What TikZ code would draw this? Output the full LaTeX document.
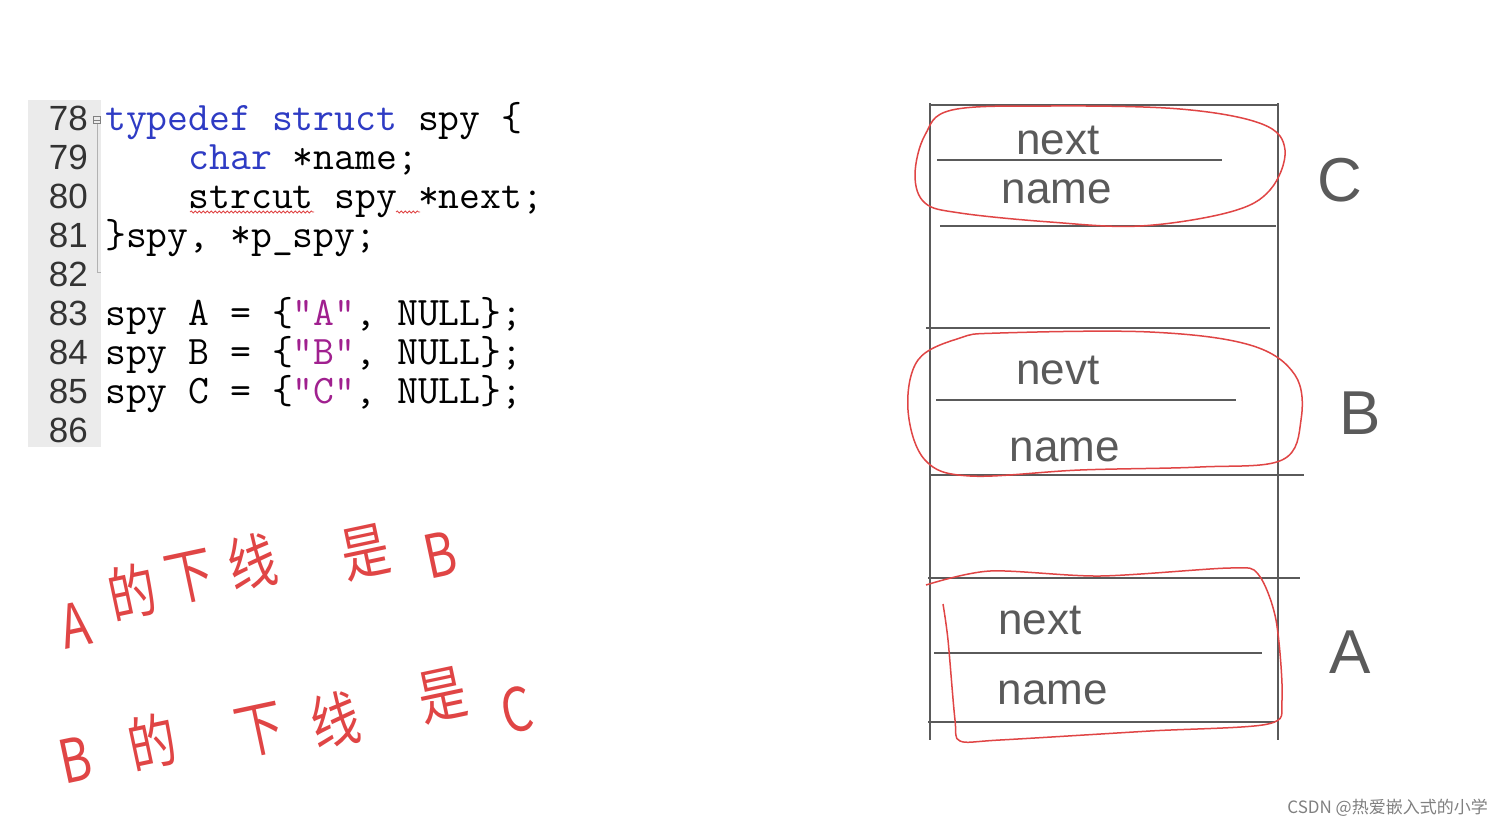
\documentclass[tikz,border=0pt]{standalone}
\usepackage{fontspec}
\setmainfont{Liberation Sans}
\newfontfamily\cjkfont{Noto Sans CJK SC}
\usetikzlibrary{decorations.pathmorphing}
\definecolor{kw}{HTML}{2E3BC4}
\definecolor{strc}{HTML}{A0208F}
\definecolor{lnbg}{HTML}{EBEBEB}
\definecolor{pen}{HTML}{E04545}
\definecolor{ink}{HTML}{5A5A5A}
\definecolor{wm}{HTML}{808080}
\tikzset{
  code/.style={font=\ttfamily\fontsize{40.5}{39}\selectfont, inner sep=0pt, anchor=base west},
  lnum/.style={font=\fontsize{35}{39}\selectfont, text=black!80, inner sep=0pt, anchor=base east},
  hand/.style={font=\fontsize{44}{50}\selectfont, text=ink, inner sep=0pt},
  bigletter/.style={font=\fontsize{62}{70}\selectfont, text=ink, inner sep=0pt},
  cjkhand/.style={font=\cjkfont\fontsize{60}{66}\selectfont, text=pen, inner sep=0pt, rotate=12, xscale=0.8},
  memline/.style={draw=ink, line width=1.4pt},
  redloop/.style={draw=pen, line width=1.5pt},
  squiggle/.style={draw=pen, line width=0.8pt, decorate, decoration={snake, amplitude=1pt, segment length=4pt}}
}
\begin{document}
\begin{tikzpicture}[x=1pt,y=-1pt]
\useasboundingbox[fill=white] (0,0) rectangle (1502,828);
% line number gutter
\fill[lnbg] (28,100) rectangle (101,447);
\foreach \n/\y in {78/130,79/169,80/208,81/247,82/286,83/325,84/364,85/403,86/442}{
  \node[lnum] (ln\n) at (88,\y) {\n};
}
% fold marker
\node[draw=black!50, line width=0.6pt, minimum size=7pt, inner sep=0pt] (fold) at (97,120) {};
\draw[black!50, line width=0.6pt] (94,120) -- (100,120);
\draw[black!30, line width=0.8pt] (fold.south) -- (97,272) -- (101,272);
% code
\node[code] (c78) at (105,130) {\textcolor{kw}{typedef struct} spy \{};
\node[code] (c79) at (105,169) {\ \ \ \ \textcolor{kw}{char} *name;};
\node[code] (c80) at (105,208) {\ \ \ \ strcut spy *next;};
\node[code] (c81) at (105,247) {\}spy, *p\_spy;};
\node[code] (c83) at (105,325) {spy A = \{\textcolor{strc}{"A"}, NULL\};};
\node[code] (c84) at (105,364) {spy B = \{\textcolor{strc}{"B"}, NULL\};};
\node[code] (c85) at (105,403) {spy C = \{\textcolor{strc}{"C"}, NULL\};};
\draw[squiggle] (190,212) -- (314,212);
\draw[squiggle] (396,212) -- (420,212);
% memory column
\draw[memline] (930,103) -- (930,740);
\draw[memline] (1278,103) -- (1278,740);
\draw[memline] (930,105) -- (1278,105);
\draw[memline] (937,160) -- (1222,160);
\draw[memline] (940,226) -- (1276,226);
\draw[memline] (926,328) -- (1270,328);
\draw[memline] (936,400) -- (1236,400);
\draw[memline] (930,475) -- (1304,475);
\draw[memline] (928,578) -- (1300,578);
\draw[memline] (934,653) -- (1262,653);
\draw[memline] (928,722) -- (1275,722);
% field labels
\node[hand] (cnext) at (1058,140) {next};
\node[hand] (cname) at (1057,192) {name};
\node[hand] (bnext) at (1058,370) {nevt};
\node[hand] (bname) at (1065,450) {name};
\node[hand] (anext) at (1040,620) {next};
\node[hand] (aname) at (1053,693) {name};
% struct letters
\node[bigletter] (lc) at (1340,180) {C};
\node[bigletter] (lb) at (1360,413) {B};
\node[bigletter] (la) at (1350,652) {A};
% red loops
\draw[redloop] plot[smooth cycle, tension=0.6] coordinates {(1050,106) (1180,109) (1262,124) (1285,150) (1270,190) (1230,212) (1140,226) (1050,222) (960,213) (925,203) (915,175) (925,135) (952,110)};
\draw[redloop] plot[smooth cycle, tension=0.6] coordinates {(1000,333) (1150,332) (1250,345) (1295,375) (1301,420) (1282,460) (1200,467) (1080,470) (970,476) (925,460) (908,410) (918,360) (960,338)};
\draw[redloop] plot[smooth, tension=0.5] coordinates {(926,585) (990,571) (1100,576) (1230,568) (1258,574) (1276,620) (1282,700) (1268,724) (1150,731) (1000,740) (960,741) (955,720) (948,640) (943,604)};
% handwritten notes
\node[cjkhand] (h1) at (75,625) {A};
\node[cjkhand] (h2) at (132,592) {的};
\node[cjkhand] (h3) at (190,577) {下};
\node[cjkhand] (h4) at (252,562) {线};
\node[cjkhand] (h5) at (365,552) {是};
\node[cjkhand] (h6) at (440,555) {B};
\node[cjkhand] (g1) at (75,760) {B};
\node[cjkhand] (g2) at (152,742) {的};
\node[cjkhand] (g3) at (260,730) {下};
\node[cjkhand] (g4) at (335,720) {线};
\node[cjkhand] (g5) at (442,695) {是};
\node[cjkhand] (g6) at (517,710) {C};
% watermark
\node[font=\cjkfont\fontsize{17}{20}\selectfont, text=wm, anchor=east, inner sep=0pt] (wmark) at (1488,808) {CSDN @热爱嵌入式的小学};
\end{tikzpicture}
\end{document}
